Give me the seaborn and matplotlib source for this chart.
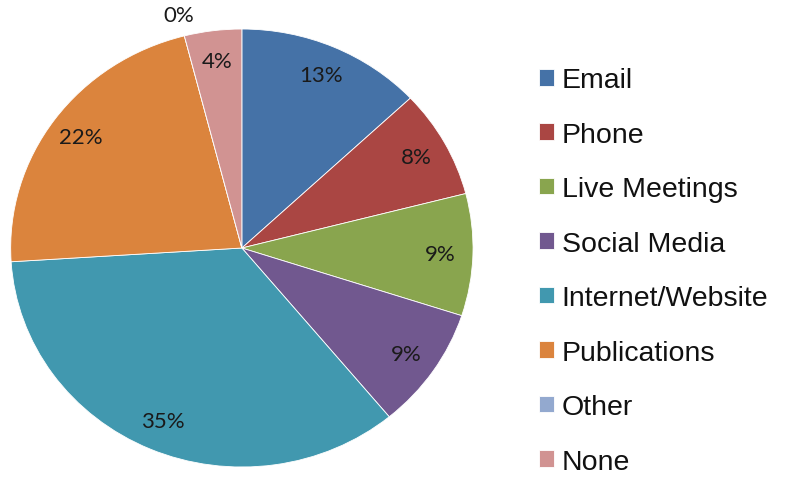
import matplotlib
matplotlib.use("Agg")
import matplotlib.pyplot as plt
import seaborn as sns
import numpy as np

# chart data
categories = ["Email", "Phone", "Live Meetings", "Social Media",
              "Internet/Website", "Publications", "Other", "None"]
shares = [13, 8, 9, 9, 35, 22, 0, 4]
colors = ["#4572A7", "#AA4643", "#89A54E", "#71588F",
          "#4198AF", "#DB843D", "#93A9CF", "#D19392"]

sns.set_theme(style="white")
plt.rcParams["font.family"] = ["Liberation Sans", "DejaVu Sans"]

fig = plt.figure(figsize=(7.85, 4.81), dpi=100)
# pie area (slightly wider than tall, as in the reference)
ax = fig.add_axes([0.0136, 0.027, 0.589, 0.9106])

palette = sns.color_palette(colors)
wedges, _ = ax.pie(shares, colors=palette, startangle=90, counterclock=False,
                   wedgeprops=dict(edgecolor="white", linewidth=0.6))
ax.set_aspect("auto")
ax.set_xlim(-1, 1)
ax.set_ylim(-1, 1)
ax.axis("off")

# percent labels: inside the slice, empty slices get an outside label
for w, val in zip(wedges, shares):
    mid = np.deg2rad((w.theta1 + w.theta2) / 2)
    r = 0.86 if val > 0 else 1.1
    ax.text(r * np.cos(mid), r * np.sin(mid), f"{val}%", ha="center", va="center",
            fontsize=16, family=["Lato", "DejaVu Sans"], color="#1a1a1a",
            clip_on=False)

leg = fig.legend(wedges, categories, loc="center left",
                 bbox_to_anchor=(539 / 785, 1 - 272 / 481), frameon=False,
                 fontsize=20.5, handlelength=0.52, handleheight=0.52,
                 handletextpad=0.28, labelspacing=1.0, borderpad=0,
                 borderaxespad=0)
for t in leg.get_texts():
    t.set_color("#111111")

fig.savefig("out.png", dpi=100)
